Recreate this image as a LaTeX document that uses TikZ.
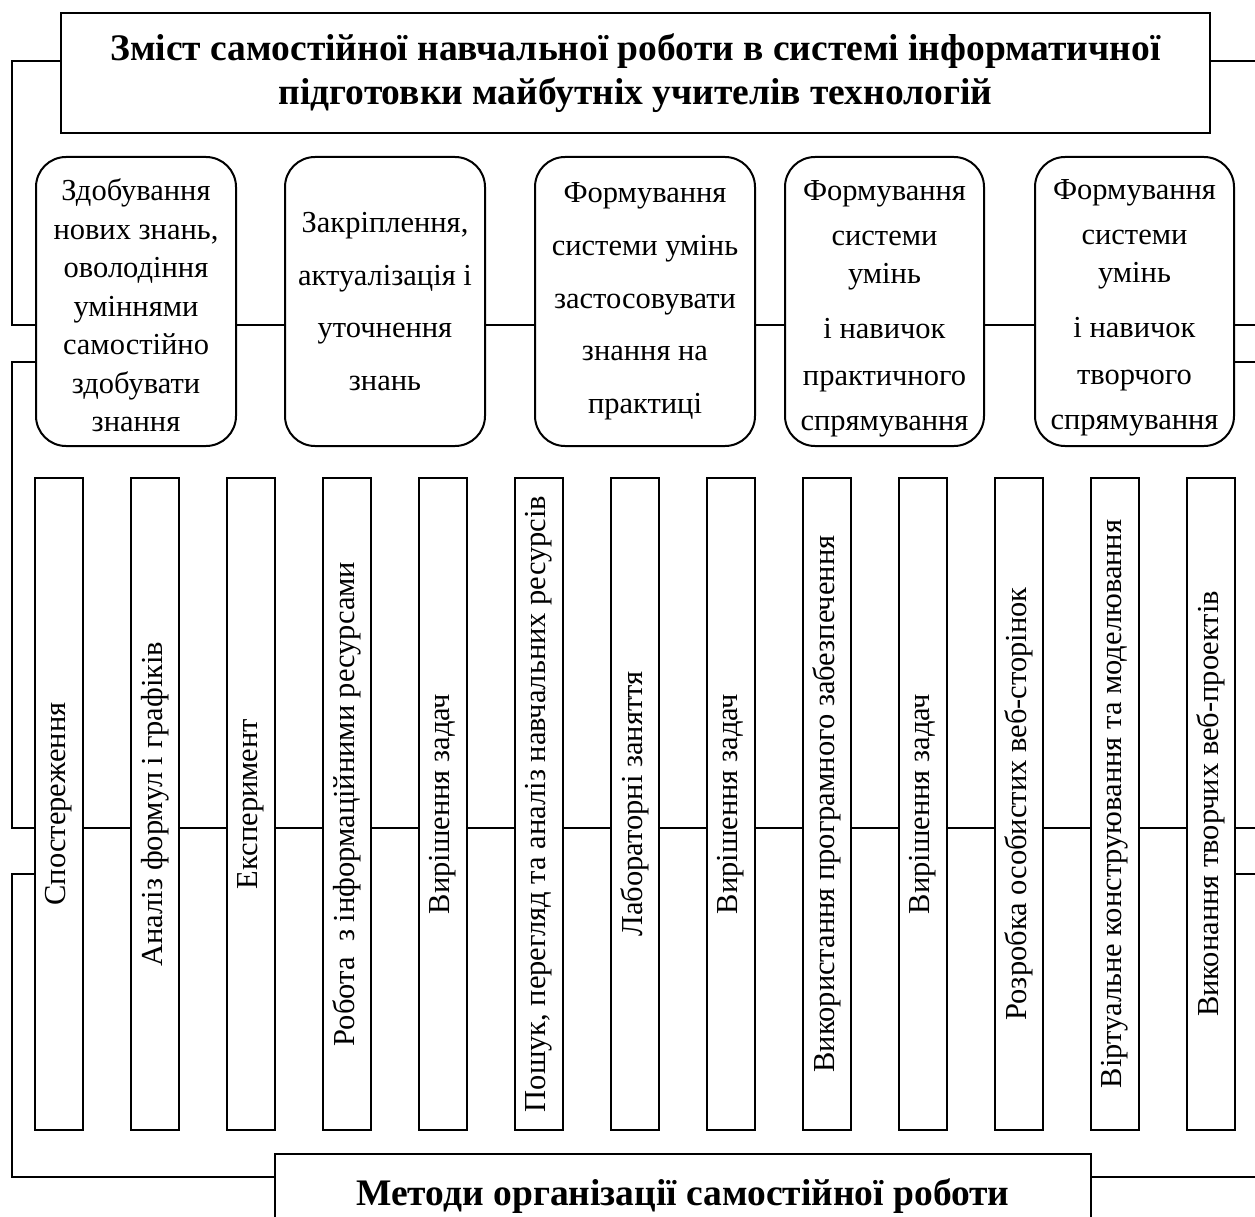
\documentclass[tikz,border=0pt]{standalone}
\usepackage{fontspec}
\setmainfont{Liberation Serif}
\usepackage{graphicx}
\begin{document}
\begin{tikzpicture}[x=1pt,y=-1pt,
  conn/.style={line width=2pt},
  tbox/.style={draw, line width=2.5pt, align=center, inner sep=0pt, font=\bfseries\fontsize{37.5}{44}\selectfont},
  rbox/.style={draw, line width=2pt, rounded corners=30pt, minimum height=289pt, align=center, inner sep=0pt, font=\fontsize{30.5}{38.5}\selectfont},
  vbox/.style={draw, line width=2pt, minimum width=48pt, minimum height=652pt, inner sep=0pt, font=\fontsize{30.5}{34}\selectfont}]
\useasboundingbox (0,0) rectangle (1255,1217);

% title box
\node[tbox, minimum width=1149pt, minimum height=120pt] (top) at (635.5,73)
  {Зміст самостійної навчальної роботи в системі інформатичної\\підготовки майбутніх учителів технологій};

% rounded boxes
\node[rbox, minimum width=200pt] (r1) at (136,301.5)
  {\rule{0pt}{30pt}Здобування\\нових знань,\\оволодіння\\уміннями\\самостійно\\здобувати\\знання};
\node[rbox, minimum width=200pt, font=\fontsize{30.5}{52.7}\selectfont] (r2) at (385,301.5)
  {Закріплення,\\актуалізація і\\уточнення\\знань};
\node[rbox, minimum width=220pt, font=\fontsize{30.5}{52.7}\selectfont] (r3) at (645,301.5)
  {Формування\\системи умінь\\застосовувати\\знання на\\практиці};
\node[rbox, minimum width=199pt, font=\fontsize{30.5}{38}\selectfont] (r4) at (884.5,301.5)
  {\rule{0pt}{34pt}Формування\\[7pt]системи\\умінь\\[17pt]і навичок\\[9pt]практичного\\[7pt]спрямування};
\node[rbox, minimum width=199pt, font=\fontsize{30.5}{38}\selectfont] (r5) at (1134.5,301.5)
  {\rule{0pt}{32pt}Формування\\[7pt]системи\\умінь\\[17pt]і навичок\\[9pt]творчого\\[7pt]спрямування};

% vertical boxes
\foreach \t [count=\i] in {
  {Спостереження},
  {Аналіз формул і графіків},
  {Експеримент},
  {Робота\ \ з інформаційними ресурсами},
  {Вирішення задач},
  {Пошук, перегляд та аналіз навчальних ресурсів},
  {Лабораторні заняття},
  {Вирішення задач},
  {Використання програмного забезпечення},
  {Вирішення задач},
  {Розробка особистих веб-сторінок},
  {Віртуальне конструювання та моделювання},
  {Виконання творчих веб-проектів}}
{
  \node[vbox] (v\i) at ({59+96*(\i-1)},804) {\rotatebox{90}{\t}};
}

% bottom box
\node[draw, line width=2.5pt, minimum width=816pt, minimum height=84pt, inner sep=0pt,
  font=\bfseries\fontsize{37.5}{44}\selectfont] (bot) at (683,1196)
  {Методи організації самостійної роботи};

% coordinates for connector corners and free ends
\coordinate (a1) at (12,61);
\coordinate (a2) at (12,325);
\coordinate (b1) at (12,362);
\coordinate (b2) at (12,828);
\coordinate (c1) at (12,874);
\coordinate (c2) at (12,1177);
\coordinate (e1) at (1255,61);
\coordinate (e2) at (1255,325);
\coordinate (e3) at (1255,362);
\coordinate (e4) at (1255,828);
\coordinate (e5) at (1255,874);
\coordinate (e6) at (1255,1177);

% left-hand links
\draw[conn] (top.west |- a1) -- (a1) -- (a2) -- (r1.west |- a2);
\draw[conn] (r1.west |- b1) -- (b1) -- (b2) -- (v1.west |- b2);
\draw[conn] (v1.west |- c1) -- (c1) -- (c2) -- (bot.west |- c2);

% rows
\draw[conn] (r1.east |- a2) -- (r2.west |- a2);
\draw[conn] (r2.east |- a2) -- (r3.west |- a2);
\draw[conn] (r3.east |- a2) -- (r4.west |- a2);
\draw[conn] (r4.east |- a2) -- (r5.west |- a2);
\foreach \i in {1,...,12}{
  \pgfmathtruncatemacro{\j}{\i+1}
  \draw[conn] (v\i.east |- b2) -- (v\j.west |- b2);
}

% right-hand free ends
\draw[conn] (top.east |- e1) -- (e1);
\draw[conn] (r5.east |- e2) -- (e2);
\draw[conn] (r5.east |- e3) -- (e3);
\draw[conn] (v13.east |- e4) -- (e4);
\draw[conn] (v13.east |- e5) -- (e5);
\draw[conn] (bot.east |- e6) -- (e6);
\end{tikzpicture}
\end{document}
